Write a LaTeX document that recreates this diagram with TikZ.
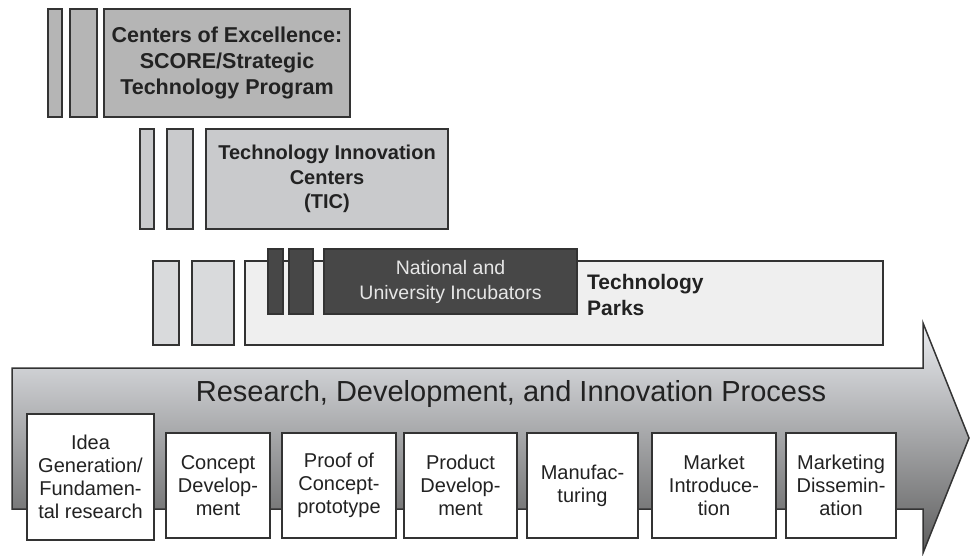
\documentclass[tikz,border=0pt]{standalone}
\usepackage{fontspec}
\setmainfont{Liberation Sans}
\definecolor{edge}{HTML}{333333}
\definecolor{coe}{HTML}{B5B5B5}
\definecolor{tic}{HTML}{C9CACC}
\definecolor{lightbar}{HTML}{D9DADC}
\definecolor{park}{HTML}{EFEFEF}
\definecolor{dark}{HTML}{474747}
\definecolor{inctext}{HTML}{E6E6E6}
\definecolor{txt}{HTML}{222222}
\definecolor{arrtop}{HTML}{EAECF0}
\definecolor{arrbot}{HTML}{5E5E5E}
\tikzset{
  blk/.style={draw=edge, line width=1.5pt, inner sep=0pt, anchor=center, rectangle},
  coebox/.style={blk, fill=coe},
  ticbox/.style={blk, fill=tic},
  lbox/.style={blk, fill=lightbar},
  pbox/.style={blk, fill=park},
  dbox/.style={blk, fill=dark},
  stagebox/.style={blk, fill=white, align=center, font=\fontsize{20}{23}\selectfont, text=txt},
  boldtxt/.style={font=\fontsize{21.5}{26}\selectfont\bfseries, text=txt, align=center},
}
\begin{document}
\begin{tikzpicture}[x=1pt,y=-1pt]
\useasboundingbox (0,0) rectangle (971,556);
% Row 1: Centers of Excellence
\node[coebox, minimum width=14, minimum height=108] (c1) at (55,63) {};
\node[coebox, minimum width=27, minimum height=108] (c2) at (83.5,63) {};
\node[coebox, minimum width=246, minimum height=108, boldtxt] (coe) at (227,63) {Centers of Excellence:\\SCORE/Strategic\\Technology Program};
% Row 2: TIC
\node[ticbox, minimum width=14, minimum height=100] (t1) at (147,179) {};
\node[ticbox, minimum width=26, minimum height=100] (t2) at (180,179) {};
\node[ticbox, minimum width=242, minimum height=100, font=\fontsize{20}{24.5}\selectfont\bfseries, text=txt, align=center] (tic) at (327,179) {Technology Innovation\\Centers\\(TIC)};
% Row 3: Technology parks
\node[lbox, minimum width=26, minimum height=84] (p1) at (166,303) {};
\node[lbox, minimum width=42, minimum height=84] (p2) at (213,303) {};
\node[pbox, minimum width=638, minimum height=84] (park) at (564,303) {};
\node[anchor=west, inner sep=0pt, font=\fontsize{21}{26}\selectfont\bfseries, text=txt, align=left] (parktxt) at (587,295) {Technology\\Parks};
% Incubators
\node[dbox, minimum width=15, minimum height=65] (d1) at (275.5,281.5) {};
\node[dbox, minimum width=24, minimum height=65] (d2) at (301,281.5) {};
\node[dbox, minimum width=253, minimum height=65, text=inctext, align=center, font=\fontsize{19.5}{25}\selectfont] (inc) at (450.5,281.5) {National and\\University Incubators};
% Process arrow
\draw[draw=edge, line width=1.5pt, line join=miter, top color=arrtop, bottom color=arrbot]
  (12,368) -- (923,368) -- (923,323) -- (969,438) -- (923,553) -- (923,509) -- (12,509) -- cycle;
\node[anchor=base, inner sep=0pt, font=\fontsize{29}{34}\selectfont, text=txt] (title) at (511,401) {Research, Development, and Innovation Process};
% Stages
\node[stagebox, minimum width=127, minimum height=126] (s1) at (90.5,477) {Idea\\Generation/\\Fundamen-\\tal research};
\node[stagebox, minimum width=104, minimum height=105] (s2) at (218,485.5) {Concept\\Develop-\\ment};
\node[stagebox, minimum width=114, minimum height=105] (s3) at (339,485.5) {Proof of\\Concept-\\prototype};
\node[stagebox, minimum width=113, minimum height=105] (s4) at (460.5,485.5) {Product\\Develop-\\ment};
\node[stagebox, minimum width=111, minimum height=105] (s5) at (582.5,485.5) {Manufac-\\turing};
\node[stagebox, minimum width=124, minimum height=105] (s6) at (714,485.5) {Market\\Introduce-\\tion};
\node[stagebox, minimum width=110, minimum height=105] (s7) at (841,485.5) {Marketing\\Dissemin-\\ation};
\end{tikzpicture}
\end{document}
